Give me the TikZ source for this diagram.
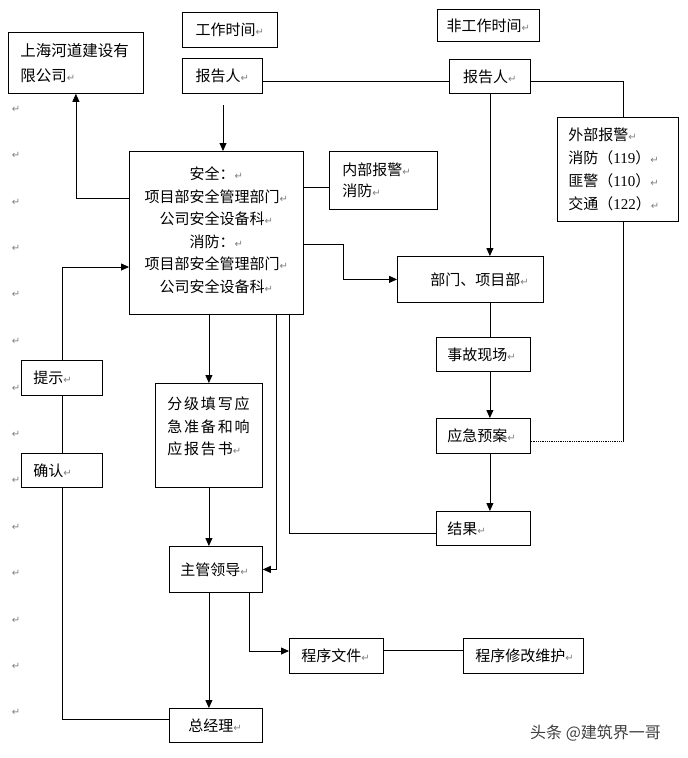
\documentclass[tikz,border=0pt]{standalone}
\usepackage{fontspec}
\setmainfont{Noto Sans CJK SC}
\newfontfamily\dejavu{DejaVu Sans}
\newfontfamily\lserif{Liberation Serif}
\newfontfamily\spaced[LetterSpace=12]{Noto Sans CJK SC}
\usetikzlibrary{arrows.meta,calc}
\newcommand{\rt}{{\dejavu\fontsize{10}{10}\selectfont\color{gray}↵}}
\newcommand{\nm}[1]{{\lserif #1}}
\begin{document}
\begin{tikzpicture}[x=1pt,y=-1pt,
  box/.style={draw, line width=0.8pt, rectangle, inner sep=0pt, anchor=north west, fill=white,
    font=\fontsize{15}{22.5}\selectfont},
  arr/.style={line width=0.8pt,-{Triangle[length=8pt,width=7pt]}},
  ln/.style={line width=0.8pt},
  pmark/.style={inner sep=0pt}]
\useasboundingbox (0,0) rectangle (688,758);

% boxes
\node[box, minimum width=135pt, minimum height=61pt, text width=111pt, align=left,
  font=\fontsize{15.5}{25}\selectfont] (company) at (8,32) {上海河道建设有\\限公司\rt};
\node[box, minimum width=95pt, minimum height=35pt] (work) at (182,12) {工作时间\rt};
\node[box, minimum width=80pt, minimum height=35pt] (rep1) at (182,58) {报告人\rt};
\node[box, minimum width=102pt, minimum height=32pt] (nonwork) at (437,9) {非工作时间\rt};
\node[box, minimum width=81pt, minimum height=34pt] (rep2) at (449,59) {报告人\rt};
\node[box, minimum width=121pt, minimum height=104pt, text width=99pt, align=left,
  font=\fontsize{15}{23}\selectfont] (ext) at (557,117)
  {外部报警\rt\\消防（\nm{119}）\rt\\匪警（\nm{110}）\rt\\交通（\nm{122}）\rt};
\node[box, minimum width=108pt, minimum height=58pt, text width=82pt, align=left,
  font=\fontsize{15}{21}\selectfont] (inner) at (329,151) {内部报警\rt\\消防\rt};
\node[box, minimum width=174pt, minimum height=163pt, align=center,
  font=\fontsize{15}{22.6}\selectfont] (main) at (129,151)
  {安全：\rt\\项目部安全管理部门\rt\\公司安全设备科\rt\\消防：\rt\\项目部安全管理部门\rt\\公司安全设备科\rt\\[-16pt]\mbox{}};
\node[box, minimum width=146pt, minimum height=46pt, text width=80pt, align=left] (dept) at (397,256) {部门、项目部\rt};
\node[box, minimum width=94pt, minimum height=34pt, text width=72pt, align=left] (scene) at (436,337) {事故现场\rt};
\node[box, minimum width=94pt, minimum height=35pt, text width=72pt, align=left] (plan) at (436,418) {应急预案\rt};
\node[box, minimum width=94pt, minimum height=34pt, text width=72pt, align=left] (result) at (436,511) {结果\rt};
\node[box, minimum width=107pt, minimum height=104pt, text width=83pt, align=left] (grade) at (155,383)
  {\spaced 分级填写应\\\spaced 急准备和响\\\spaced 应报告书\rt\\[-3pt]\mbox{}};
\node[box, minimum width=93pt, minimum height=46pt, text width=71pt, align=left] (lead) at (169,546) {主管领导\rt};
\node[box, minimum width=93pt, minimum height=34pt, text width=55pt, align=left] (gm) at (169,708) {总经理\rt};
\node[box, minimum width=94pt, minimum height=35pt, text width=70pt, align=left] (prog) at (289,638) {程序文件\rt};
\node[box, minimum width=120pt, minimum height=35pt, text width=96pt, align=left] (maint) at (463,638) {程序修改维护\rt};
\node[box, minimum width=81pt, minimum height=35pt, text width=57pt, align=left] (hint) at (21,360) {提示\rt};
\node[box, minimum width=81pt, minimum height=34pt, text width=57pt, align=left] (confirm) at (21,453) {确认\rt};

% connectors
\coordinate (a1) at (223,105);
\coordinate (c1) at (623,441);
\draw[arr] (a1) -- (main.north -| a1);
\draw[arr] (main.west |- 0,198) -| (company.south);
\draw[ln] (rep1.east |- 0,81) -- (rep2.west |- 0,81);
\draw[ln] (rep2.east |- 0,81) -| (ext.north -| c1);
\draw[arr] (rep2.south) -- (rep2.south |- dept.north);
\draw[ln] (main.east |- 0,187) -- (inner.west |- 0,187);
\draw[arr] (main.east |- 0,244) -- (343,244) |- (dept.west);
\draw[ln] (dept.south -| rep2.south) -- (scene.north -| rep2.south);
\draw[arr] (scene.south -| rep2.south) -- (plan.north -| rep2.south);
\draw[arr] (plan.south -| rep2.south) -- (result.north -| rep2.south);
\draw[ln] (ext.south -| c1) -- (c1);
\draw[ln, densely dotted] (plan.east |- c1) -- (c1);
\draw[ln] (result.west |- 0,533) -| (main.south -| 289,0);
\draw[arr] (main.south -| grade.north) -- (grade.north);
\draw[arr] (grade.south) -- (grade.south |- lead.north);
\draw[arr] (main.south -| 276,0) |- (lead.east);
\draw[arr] (lead.south -| grade.south) -- (gm.north -| grade.south);
\draw[arr] (lead.south -| 249,0) |- (prog.west |- 0,651);
\draw[ln] (prog.east |- 0,650) -- (maint.west |- 0,650);
\draw[ln] (gm.west |- 0,719) -| (confirm.south);
\draw[ln] (confirm.north) -- (hint.south);
\draw[arr] (hint.north) |- (main.west |- 0,267);

% paragraph marks in the margin
\foreach \yy [count=\i] in {109,155,202,248,294,341,388,434,480,527,573,620,666,712}
  \node[pmark] (m\i) at (16,\yy) {\rt};

% watermark
\node[anchor=west, inner sep=0pt, text=black!75, font=\fontsize{16}{16}\selectfont] (wm) at (530,733) {头条 @建筑界一哥};
\end{tikzpicture}
\end{document}
